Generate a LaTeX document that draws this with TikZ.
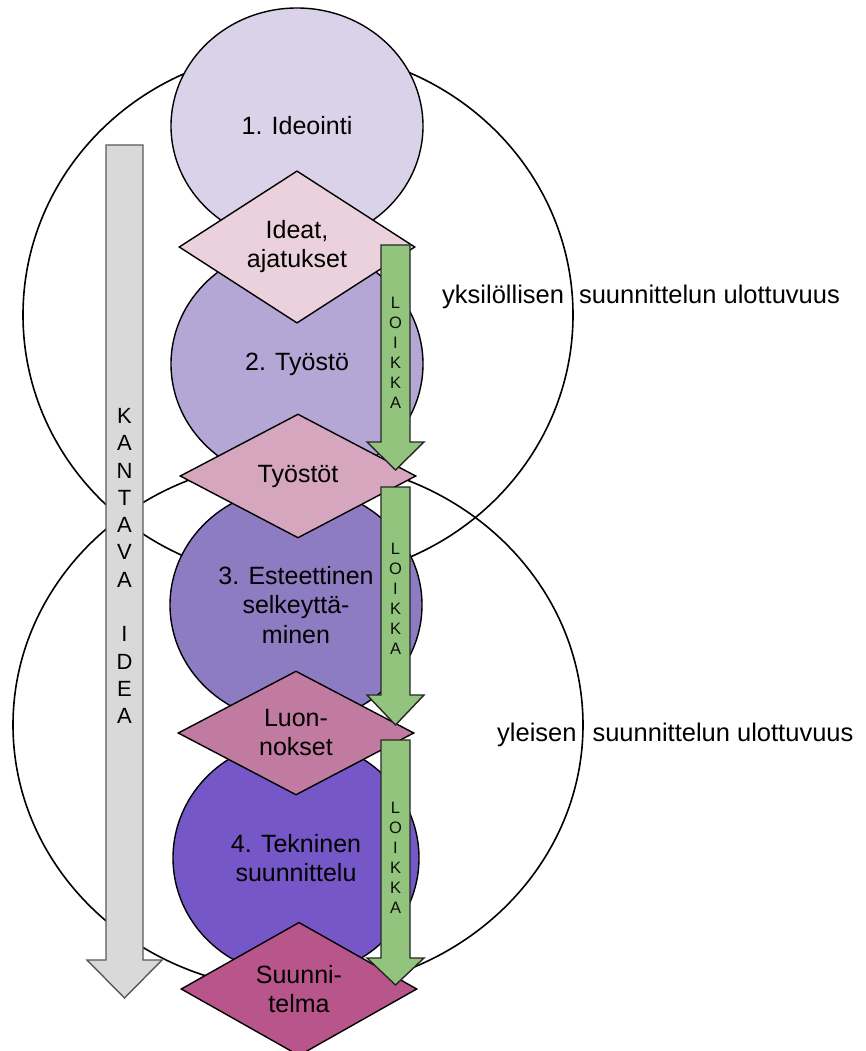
\documentclass[tikz,border=0pt]{standalone}
\usepackage{fontspec}
\setmainfont{Liberation Sans}
\usetikzlibrary{shapes.geometric}
\definecolor{stageone}{HTML}{D9D2E9}
\definecolor{stagetwo}{HTML}{B4A7D6}
\definecolor{stagethree}{HTML}{8E7CC3}
\definecolor{stagefour}{HTML}{7557C8}
\definecolor{outone}{HTML}{EAD1DC}
\definecolor{outtwo}{HTML}{D5A6BD}
\definecolor{outthree}{HTML}{C27BA0}
\definecolor{outfour}{HTML}{B8558A}
\definecolor{leapgreen}{HTML}{93C47D}
\definecolor{basegrey}{HTML}{D9D9D9}

\begin{document}
\begin{tikzpicture}[x=1pt, y=-1pt,
  realm/.style={ellipse, draw=black, line width=1.6pt, inner sep=0pt},
  stage/.style={ellipse, draw=black, line width=1.4pt, minimum width=252pt,
    minimum height=236pt, inner sep=0pt, align=center, text=black,
    font=\fontsize{25}{29.5}\selectfont},
  outcome/.style={diamond, draw=black, line width=1.4pt, minimum width=236pt,
    minimum height=124pt, inner sep=0pt, align=center, text=black,
    font=\fontsize{25}{29}\selectfont},
  leap/.style={draw=black!85, line width=1.4pt, fill=leapgreen},
  leaptext/.style={align=center, inner sep=0pt, text=black!92!leapgreen,
    font=\fontsize{16.5}{20}\selectfont},
  dimlabel/.style={anchor=west, inner sep=0pt, font=\fontsize{25.5}{29}\selectfont}]
  \path[use as bounding box, fill=white] (0,0) rectangle (865,1051);

  % the two dimensions
  \node[realm, minimum width=550pt, minimum height=530pt] (upper) at (298,315) {};
  \node[realm, minimum width=570pt, minimum height=530pt] (lower) at (298,725) {};

  % carrying idea
  \draw[draw=black!65, line width=1.4pt, fill=basegrey]
    (106,145) -- (143,145) -- (143,960) -- (162,960) -- (124.5,998)
    -- (87,960) -- (106,960) -- cycle;
  \node[align=center, inner sep=0pt, text=black,
    font=\fontsize{22}{27.3}\selectfont] (kantava) at (124.5,566)
    {K\\A\\N\\T\\A\\V\\A\\[27.3pt]I\\D\\E\\A};

  % stages
  \node[stage, fill=stageone] (ideointi) at (297,126) {1. Ideointi};
  \node[stage, fill=stagetwo] (tyosto) at (297,364) {2. Työstö};
  \node[stage, fill=stagethree] (esteettinen) at (296,605)
    {3. Esteettinen\\selkeyttä-\\minen};
  \node[stage, fill=stagefour, minimum width=246pt] (tekninen) at (296,858)
    {4. Tekninen\\suunnittelu};

  % outcomes
  \node[outcome, fill=outone] (ideat) at (297,247) {Ideat,\\ajatukset};
  \node[outcome, fill=outtwo] (tyostot) at (298,476) {Työstöt};
  \node[outcome, fill=outthree] (luonnokset) at (296,733) {Luon-\\nokset};
  \node[outcome, fill=outfour] (suunnitelma) at (299,989) {Suunni-\\telma};

  % leaps
  \draw[leap] (381,245) -- (410,245) -- (410,442) -- (424,442) -- (395.5,470)
    -- (367,442) -- (381,442) -- cycle;
  \draw[leap] (381,487) -- (410,487) -- (410,695) -- (424,695) -- (395.5,725)
    -- (367,695) -- (381,695) -- cycle;
  \draw[leap] (381,740) -- (410,740) -- (410,958) -- (424,958) -- (395.5,985)
    -- (367,958) -- (381,958) -- cycle;
  \node[leaptext] (loikkaA) at (395.5,353) {L\\O\\I\\K\\K\\A};
  \node[leaptext] (loikkaB) at (395.5,599) {L\\O\\I\\K\\K\\A};
  \node[leaptext] (loikkaC) at (395.5,858) {L\\O\\I\\K\\K\\A};

  \node[dimlabel] (yksilo) at (442,297)
    {yksilöllisen\hspace{15pt}suunnittelun ulottuvuus};
  \node[dimlabel] (yleinen) at (497,735)
    {yleisen\hspace{16pt}suunnittelun ulottuvuus};
\end{tikzpicture}
\end{document}
